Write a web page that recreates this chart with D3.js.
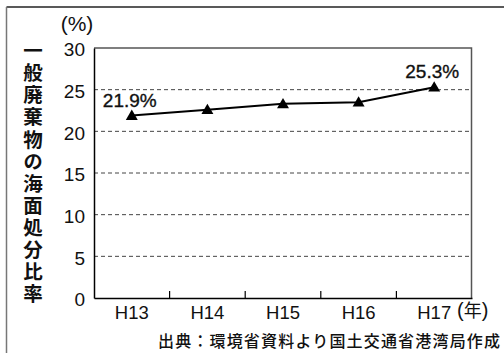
<!DOCTYPE html>
<html>
<head>
<meta charset="utf-8">
<script src="https://cdn.jsdelivr.net/npm/d3@7"></script>
<style>
  html, body { margin: 0; padding: 0; background: #fff; }
  svg { display: block; }
  text { font-family: "Liberation Sans", Arial, "Noto Sans CJK JP", sans-serif; fill: #111; }
  .jp { font-family: "Noto Sans CJK JP", sans-serif; }
  .num { stroke: #111; stroke-width: 0.35; }
</style>
</head>
<body>
<svg id="chart" width="504" height="353"></svg>
<script>
// Share of general waste disposed of at sea, by fiscal year
const years = ["H13", "H14", "H15", "H16", "H17"];
const shares = [21.9, 22.6, 23.3, 23.5, 25.3];
const yTicks = [0, 5, 10, 15, 20, 25, 30];
const pointLabels = [{ i: 0, text: "21.9%" }, { i: 4, text: "25.3%" }];
const yTitle = "一般廃棄物の海面処分比率";
const sourceNote = "出典：環境省資料より国土交通省港湾局作成";

const svg = d3.select("#chart");
const plot = { left: 94, right: 472, top: 48, bottom: 298 };

const x = d3.scaleBand().domain(years).range([plot.left, plot.right]);
const y = d3.scaleLinear().domain([0, 30]).range([plot.bottom, plot.top]);

// outer frame (top and left edges only)
svg.append("line").attr("x1", 6.5).attr("x2", 504).attr("y1", 7).attr("y2", 7)
  .attr("stroke", "#222").attr("stroke-width", 1.5);
svg.append("line").attr("x1", 6.5).attr("x2", 6.5).attr("y1", 7).attr("y2", 353)
  .attr("stroke", "#777").attr("stroke-width", 1.5);

// dashed gridlines
svg.append("g").selectAll("line")
  .data(yTicks.filter(d => d > 0 && d < 30))
  .join("line")
  .attr("x1", plot.left).attr("x2", plot.right)
  .attr("y1", d => y(d)).attr("y2", d => y(d))
  .attr("stroke", "#444").attr("stroke-width", 1)
  .attr("stroke-dasharray", "4,3");

// plot frame: top and right in grey
svg.append("path")
  .attr("d", `M${plot.left},${y(30)}H${plot.right - 0.5}V${plot.bottom}`)
  .attr("fill", "none").attr("stroke", "#555").attr("stroke-width", 1.5);

// y axis
const yAxis = d3.axisLeft(y).tickValues(yTicks).tickSize(0).tickPadding(9);
const gy = svg.append("g").attr("transform", `translate(${plot.left},0)`).call(yAxis);
gy.select(".domain").attr("stroke", "#000").attr("stroke-width", 1.5);
gy.selectAll("text").attr("font-size", 19).attr("dy", "0.42em")
  .style("font-family", "'Liberation Sans', Arial, sans-serif").attr("fill", "#111");

// x axis with inner ticks at category boundaries
const xAxis = d3.axisBottom(x).tickSize(0).tickPadding(8);
const gx = svg.append("g").attr("transform", `translate(0,${plot.bottom})`).call(xAxis);
gx.select(".domain").attr("stroke", "#000").attr("stroke-width", 1.5);
gx.selectAll("text").attr("font-size", 18.5).attr("dy", "0.71em")
  .style("font-family", "'Liberation Sans', Arial, sans-serif").attr("fill", "#111");
svg.append("g").selectAll("line")
  .data(years.slice(1))
  .join("line")
  .attr("x1", d => x(d)).attr("x2", d => x(d))
  .attr("y1", plot.bottom).attr("y2", plot.bottom - 7)
  .attr("stroke", "#000").attr("stroke-width", 1.2);

// unit labels
svg.append("text").attr("x", 77).attr("y", 31)
  .attr("text-anchor", "middle").attr("font-size", 21).text("(%)");
const yearUnit = svg.append("text").attr("x", 457).attr("y", 317).attr("font-size", 20);
yearUnit.append("tspan").text("(");
yearUnit.append("tspan").attr("class", "jp").attr("font-size", 18).text("年");
yearUnit.append("tspan").text(")");

// vertical y title
svg.append("text")
  .attr("class", "jp")
  .attr("x", 33).attr("y", 41)
  .attr("writing-mode", "vertical-rl")
  .attr("font-size", 19.5).attr("font-weight", 700)
  .attr("letter-spacing", 2.6)
  .text(yTitle);

// data line
const cx = d => x(d) + x.bandwidth() / 2;
svg.append("path")
  .datum(years.map((yr, i) => [cx(yr), y(shares[i])]))
  .attr("d", d3.line())
  .attr("fill", "none").attr("stroke", "#000").attr("stroke-width", 2);

// triangle markers
svg.append("g").selectAll("path")
  .data(years)
  .join("path")
  .attr("transform", (d, i) => `translate(${cx(d)},${y(shares[i]) + 1})`)
  .attr("d", d3.symbol(d3.symbolTriangle, 62))
  .attr("fill", "#000");

// value labels
svg.append("g").selectAll("text")
  .data(pointLabels)
  .join("text")
  .attr("class", "num")
  .attr("x", d => cx(years[d.i]) - 2)
  .attr("y", d => y(shares[d.i]) - 9)
  .attr("text-anchor", "middle").attr("font-size", 19)
  .text(d => d.text);

// source note
svg.append("text").attr("class", "jp")
  .attr("x", 500).attr("y", 347).attr("text-anchor", "end")
  .attr("font-size", 16).attr("font-weight", 500)
  .attr("textLength", 342).attr("lengthAdjust", "spacing")
  .text(sourceNote);
</script>
</body>
</html>
